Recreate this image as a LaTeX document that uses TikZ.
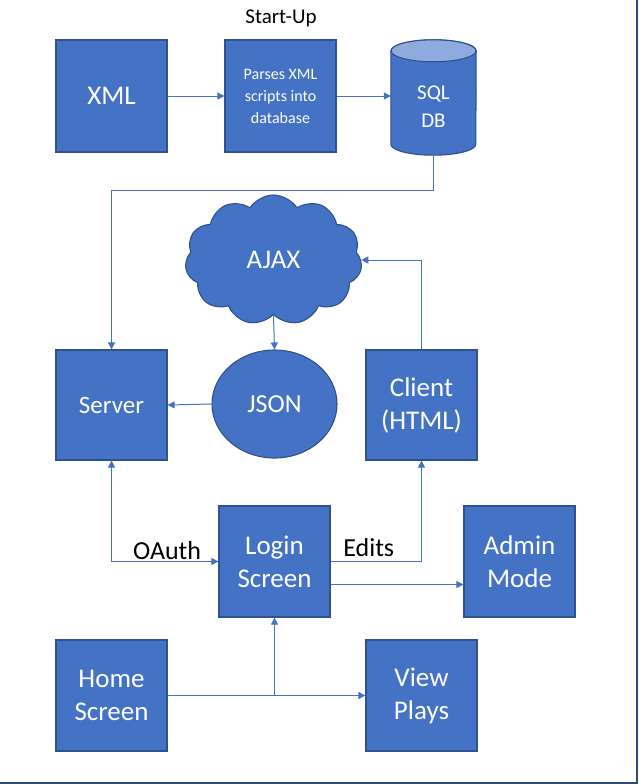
\documentclass[tikz,border=0pt]{standalone}
\usepackage{fontspec}
\setmainfont{Carlito}
\usetikzlibrary{arrows.meta,shapes.geometric,shapes.symbols}
\definecolor{blu}{HTML}{4472C4}
\definecolor{bord}{HTML}{2F528F}
\definecolor{blutop}{HTML}{8FAADC}
\definecolor{frame}{HTML}{2E4A7A}
\tikzset{
  box/.style={rectangle, draw=bord, fill=blu, line width=1.1pt, text=white,
    minimum width=111pt, minimum height=111pt, align=center, inner sep=0pt,
    font=\fontsize{27}{33}\selectfont},
  conn/.style={draw=blu, line width=1pt, -{Triangle[length=7pt,width=7pt]}},
  lbl/.style={text=black, font=\fontsize{26}{30}\selectfont, inner sep=1pt}
}
\begin{document}
\begin{tikzpicture}[x=1pt,y=-1pt]
\useasboundingbox (0,0) rectangle (638,784);
% frame edges
\draw[frame, line width=2pt] (0,782.5) -- (637,782.5) -- (637,0);

\node[text=black, font=\fontsize{21}{24}\selectfont] (startup) at (281,18) {Start-Up};
\node[box, minimum height=112pt] (xml) at (111.5,96) {XML};
\node[box, minimum height=112pt, font=\fontsize{16}{22}\selectfont] (parse) at (280.5,96) {Parses XML\\scripts into\\database};
% SQL DB cylinder
\node[minimum width=85pt, minimum height=115pt, inner sep=0pt] (sql) at (433.5,97.5) {};
\path[fill=blu, draw=bord, line width=1.1pt] ([yshift=-11pt]sql.north west) -- ([yshift=11pt]sql.south west)
  arc[start angle=180, end angle=360, x radius=42.5pt, y radius=11pt] -- ([yshift=-11pt]sql.north east)
  arc[start angle=0, end angle=180, x radius=42.5pt, y radius=11pt] -- cycle;
\draw[fill=blutop, draw=bord, line width=1.1pt] ([yshift=-11pt]sql.north) ellipse [x radius=42.5pt, y radius=11pt];
\node[text=white, align=center, font=\fontsize{21}{28}\selectfont] (sqltext) at (433.5,107) {SQL\\DB};

\node[cloud, cloud puffs=11, cloud puff arc=115, aspect=1.36, draw=bord, fill=blu, line width=1.1pt,
  minimum width=177pt, minimum height=130pt, text=white, font=\fontsize{27}{30}\selectfont] (ajax) at (273.5,260) {AJAX};

\node[box, minimum height=110pt, font=\fontsize{25}{30}\selectfont] (server) at (111.5,405) {Server};
\node[ellipse, draw=bord, fill=blu, line width=1.1pt, minimum width=125pt, minimum height=108pt, text=white,
  font=\fontsize{26}{30}\selectfont] (json) at (274.5,404) {JSON};
\node[box, minimum height=110pt] (client) at (421.5,405) {Client\\(HTML)};

\node[box] (login) at (274.5,561.5) {Login\\Screen};
\node[box] (admin) at (519.5,561.5) {Admin\\Mode};
\node[box] (home) at (111.5,695.5) {Home\\Screen};
\node[box] (view) at (421.5,695.5) {View\\Plays};

% connectors
\draw[conn] (xml) -- (parse);
\draw[conn] (parse.east) -- (sql.west |- parse.east);
\coordinate (c1) at (sql.south |- 0,190);
\draw[conn] (sql.south) -- (c1) -| (server.north);
\draw[conn] (client.north) |- (ajax.east);
\draw[conn] (ajax.south) -- (json.north);
\draw[conn] (json.west) -- (server.east);
\draw[conn, {Triangle[length=7pt,width=7pt]}-{Triangle[length=7pt,width=7pt]}] (server.south) |- node[lbl, above, pos=0.76] {OAuth} (login.west);
\draw[conn] (login.east) -| node[lbl, above=3pt, pos=0.21] {Edits} (client.south);
\draw[conn] ([yshift=-23pt]login.east) -- ([yshift=-23pt]admin.west);
\draw[conn] (home) -- (view);
\coordinate (j) at (login.south |- home.east);
\draw[conn] (j) -- (login.south);
\end{tikzpicture}
\end{document}
